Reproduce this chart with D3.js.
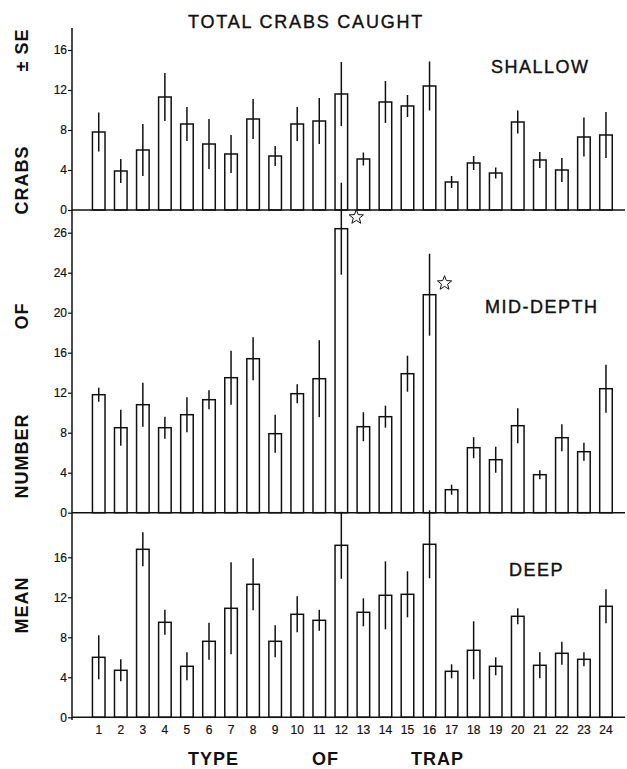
<!DOCTYPE html>
<html>
<head>
<meta charset="utf-8">
<script src="https://cdn.jsdelivr.net/npm/d3@7"></script>
<style>
  body { margin: 0; background: #fff; }
  svg { display: block; font-family: "Liberation Sans", Arial, Helvetica, sans-serif; }
</style>
</head>
<body>
<svg id="chart"></svg>
<script>
const width = 627, height = 769;

// trap types along the bottom
const trapTypes = ["1","2","3","4","5","6","7","8","9","10","11","12",
                   "13","14","15","16","17","18","19","20","21","22","23","24"];

// mean crabs caught and standard error
const shallowMean = [7.8, 3.9, 6.0, 11.3, 8.6, 6.6, 5.6, 9.1, 5.4, 8.6, 8.9, 11.6,
                     5.1, 10.8, 10.4, 12.4, 2.8, 4.7, 3.7, 8.8, 5.0, 4.0, 7.3, 7.5];
const shallowSE   = [1.95, 1.2, 2.6, 2.4, 1.7, 2.5, 1.9, 2.0, 1.0, 1.7, 2.3, 3.2,
                     0.65, 2.1, 1.1, 2.45, 0.6, 0.7, 0.55, 1.15, 0.8, 1.2, 1.95, 2.3];

const midMean = [11.8, 8.5, 10.8, 8.5, 9.8, 11.3, 13.5, 15.4, 7.9, 11.9, 13.4, 28.4,
                 8.6, 9.6, 13.9, 21.8, 2.3, 6.5, 5.3, 8.7, 3.8, 7.5, 6.1, 12.4];
const midSE   = [0.7, 1.8, 2.2, 1.1, 1.75, 0.95, 2.7, 2.15, 1.9, 0.95, 3.85, 4.6,
                 1.45, 1.1, 1.8, 4.1, 0.5, 1.05, 1.3, 1.75, 0.45, 1.35, 0.9, 2.4];

const deepMean = [6.0, 4.7, 16.8, 9.5, 5.1, 7.6, 10.9, 13.3, 7.6, 10.3, 9.7, 17.2,
                  10.5, 12.2, 12.3, 17.3, 4.6, 6.7, 5.1, 10.1, 5.2, 6.4, 5.8, 11.1];
const deepSE   = [2.2, 1.1, 1.7, 1.25, 1.4, 1.85, 4.6, 2.6, 1.6, 1.8, 1.05, 3.35,
                  1.4, 3.4, 2.3, 3.4, 0.7, 2.9, 0.9, 0.8, 1.3, 1.15, 0.7, 1.7];

// traps marked with a star in the mid-depth panel
const starredMid = ["12", "16"];

// tick values and the labels printed beside them
const shallowTicks = [0, 4, 8, 12, 16];
const shallowTickLabels = ["0", "4", "8", "12", "16"];
const midTicks = [0, 4, 8, 12, 16, 20, 24, 28];
const midTickLabels = ["0", "4", "8", "12", "16", "20", "24", "26"];  // top one is printed "26"
const deepTicks = [0, 4, 8, 12, 16];
const deepTickLabels = ["0", "4", "8", "12", "16"];

const svg = d3.select("#chart")
    .attr("width", width)
    .attr("height", height);

const axisX = 72;
const lineEnd = 625;

const x = d3.scaleBand()
    .domain(trapTypes)
    .range([87.7, 617])
    .paddingInner(0.43)
    .paddingOuter(0.215);

// panels: each with own y scale (same px per unit)
const panels = [
    {name: "SHALLOW", mean: shallowMean, se: shallowSE,
     y: d3.scaleLinear().domain([0, 18.2]).range([210, 28]),
     ticks: shallowTicks, labels: shallowTickLabels, lx: 491, ly: 73},
    {name: "MID-DEPTH", mean: midMean, se: midSE,
     y: d3.scaleLinear().domain([0, 30.27]).range([512.7, 210]),
     ticks: midTicks, labels: midTickLabels, lx: 485, ly: 313, stars: starredMid},
    {name: "DEEP", mean: deepMean, se: deepSE,
     y: d3.scaleLinear().domain([0, 20.43]).range([717.3, 513]),
     ticks: deepTicks, labels: deepTickLabels, lx: 509, ly: 576}
];

// star path
function starPath(cx, cy, R, r) {
    let pts = [];
    for (let i = 0; i < 10; i++) {
        const a = -Math.PI / 2 + i * Math.PI / 5;
        const rad = i % 2 === 0 ? R : r;
        pts.push([cx + rad * Math.cos(a), cy + rad * Math.sin(a)]);
    }
    return "M" + pts.map(p => p.join(",")).join("L") + "Z";
}

panels.forEach(function(p) {
    const g = svg.append("g");
    const data = trapTypes.map((t, i) => ({type: t, mean: p.mean[i], se: p.se[i]}));

    // bars
    g.selectAll("rect")
        .data(data)
        .join("rect")
        .attr("x", d => x(d.type))
        .attr("y", d => p.y(d.mean))
        .attr("width", x.bandwidth())
        .attr("height", d => p.y(0) - p.y(d.mean))
        .attr("fill", "#fff")
        .attr("stroke", "#111")
        .attr("stroke-width", 1.5);

    // error bars
    g.selectAll("line.err")
        .data(data)
        .join("line")
        .attr("class", "err")
        .attr("x1", d => x(d.type) + x.bandwidth() / 2)
        .attr("x2", d => x(d.type) + x.bandwidth() / 2)
        .attr("y1", d => p.y(d.mean - d.se))
        .attr("y2", d => p.y(d.mean + d.se))
        .attr("stroke", "#111")
        .attr("stroke-width", 1.5);

    // baseline across the panel
    g.append("line")
        .attr("x1", axisX).attr("x2", lineEnd)
        .attr("y1", p.y(0)).attr("y2", p.y(0))
        .attr("stroke", "#111").attr("stroke-width", 1.5);

    // y ticks
    const axis = d3.axisLeft(p.y)
        .tickValues(p.ticks)
        .tickSize(4)
        .tickPadding(1)
        .tickFormat((d, i) => p.labels[i]);
    const ag = g.append("g")
        .attr("transform", `translate(${axisX},0)`)
        .call(axis);
    ag.select(".domain").remove();
    ag.selectAll(".tick line").attr("stroke", "#111").attr("stroke-width", 1.2);
    ag.selectAll(".tick text")
        .attr("fill", "#111")
        .attr("stroke", "#111").attr("stroke-width", 0.2)
        .style("font-size", "12px")
        .style("font-family", "'Liberation Sans', Arial, sans-serif");

    // panel label
    g.append("text")
        .attr("x", p.lx).attr("y", p.ly)
        .attr("fill", "#111")
        .attr("stroke", "#111").attr("stroke-width", 0.4)
        .style("font-size", "18px")
        .style("letter-spacing", "1.5px")
        .text(p.name);

    // stars
    if (p.stars) {
        g.selectAll("path.star")
            .data(data.filter(d => p.stars.includes(d.type)))
            .join("path")
            .attr("class", "star")
            .attr("d", d => starPath(x(d.type) + x.bandwidth() / 2 + 15, p.y(d.mean) - 11.5, 7.5, 3.2))
            .attr("fill", "none")
            .attr("stroke", "#111")
            .attr("stroke-width", 1);
    }
});

// y axis line
svg.append("line")
    .attr("x1", axisX).attr("x2", axisX)
    .attr("y1", 28).attr("y2", 720)
    .attr("stroke", "#111").attr("stroke-width", 1.5);

// x tick labels under the deep panel
svg.append("g")
    .attr("transform", "translate(0,717.3)")
    .call(d3.axisBottom(x).tickSize(0).tickPadding(8))
    .call(g => g.select(".domain").remove())
    .selectAll("text")
    .attr("fill", "#111")
    .attr("stroke", "#111").attr("stroke-width", 0.2)
    .style("font-size", "12px")
    .style("font-family", "'Liberation Sans', Arial, sans-serif");

// title
svg.append("text")
    .attr("x", 188).attr("y", 28)
    .attr("fill", "#111")
    .attr("stroke", "#111").attr("stroke-width", 0.4)
    .style("font-size", "18px")
    .style("letter-spacing", "1.8px")
    .text("TOTAL CRABS CAUGHT");

// x axis title, words spread out
const xTitle = [["TYPE", 188], ["OF", 312], ["TRAP", 411]];
svg.selectAll("text.xt")
    .data(xTitle)
    .join("text")
    .attr("class", "xt")
    .attr("x", d => d[1]).attr("y", 765)
    .attr("fill", "#111")
    .style("font-size", "18px")
    .style("font-weight", "bold")
    .style("letter-spacing", "1px")
    .text(d => d[0]);

// y axis title, rotated words spread along the axis
const yTitle = [["MEAN", 605], ["NUMBER", 456], ["OF", 316], ["CRABS", 180], ["\u00B1 SE", 50]];
svg.selectAll("text.yt")
    .data(yTitle)
    .join("text")
    .attr("class", "yt")
    .attr("transform", d => `translate(28,${d[1]}) rotate(-90)`)
    .attr("text-anchor", "middle")
    .attr("fill", "#111")
    .style("font-size", "18px")
    .style("font-weight", "bold")
    .style("letter-spacing", "1px")
    .text(d => d[0]);
</script>
</body>
</html>
